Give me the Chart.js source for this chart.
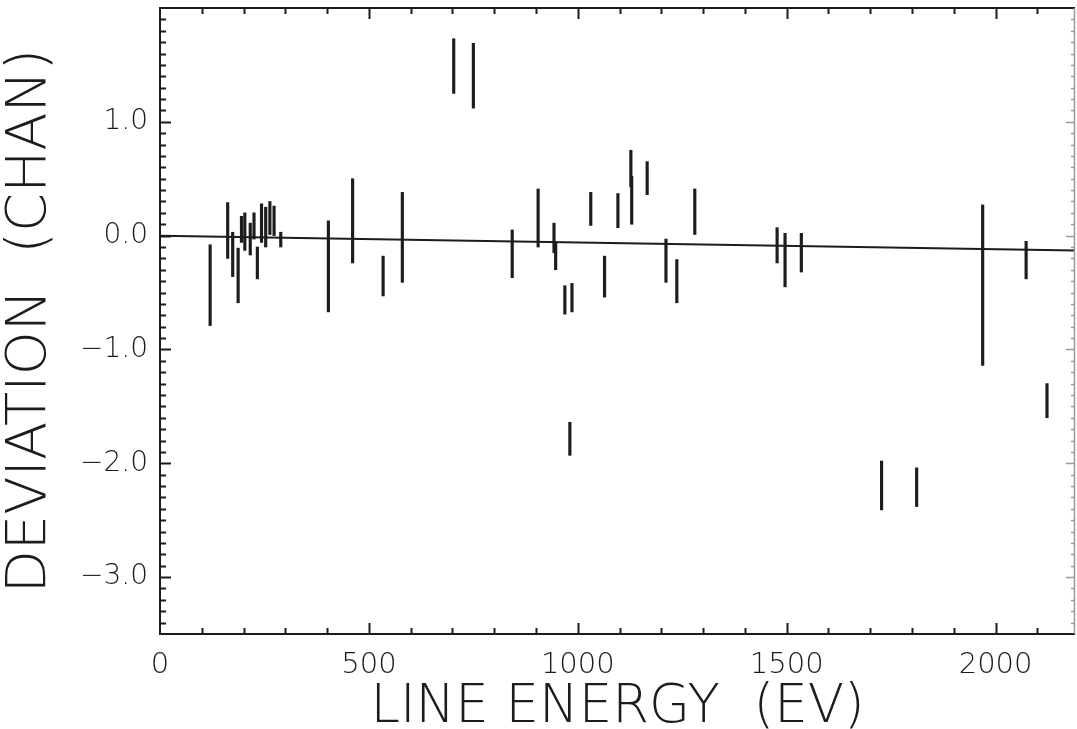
<!DOCTYPE html>
<html>
<head>
<meta charset="utf-8">
<script src="https://cdn.jsdelivr.net/npm/chart.js@4.4.1/dist/chart.umd.min.js"></script>
<style>
  html, body { margin: 0; padding: 0; background: #fff; overflow: hidden; }
  #wrap { position: relative; width: 1077px; height: 729px; }
</style>
</head>
<body>
<div id="wrap"><canvas id="plot"></canvas></div>
<script>
"use strict";

// ── Data ────────────────────────────────────────────────────────────────────
// line energy (eV) and the top / bottom of each deviation bar (channels)
const energies = [120, 162, 174, 187, 195, 203, 216, 225, 233, 243, 253, 263, 273, 289,
                  403, 461, 534, 580, 703, 750, 843, 905, 943, 947, 969, 981, 986,
                  1031, 1064, 1096, 1127, 1129, 1166, 1211, 1237, 1280,
                  1477, 1496, 1535, 1727, 1811, 1969, 2073, 2123];
const devHigh  = [-0.08, 0.29, 0.03, -0.11, 0.17, 0.20, 0.11, 0.20, -0.10, 0.28, 0.25, 0.30, 0.26, 0.03,
                  0.13, 0.50, -0.18, 0.38, 1.73, 1.69, 0.05, 0.41, 0.11, -0.06, -0.44, -1.64, -0.42,
                  0.38, -0.18, 0.37, 0.75, 0.52, 0.65, -0.03, -0.21, 0.41,
                  0.07, 0.02, 0.02, -1.98, -2.04, 0.27, -0.05, -1.30];
const devLow   = [-0.79, -0.20, -0.36, -0.59, -0.06, -0.13, -0.17, -0.03, -0.38, -0.06, -0.10, 0.01, 0.00, -0.10,
                  -0.67, -0.24, -0.53, -0.41, 1.25, 1.12, -0.37, -0.10, -0.15, -0.30, -0.69, -1.93, -0.67,
                  0.09, -0.54, 0.07, 0.43, 0.10, 0.36, -0.41, -0.59, 0.01,
                  -0.24, -0.45, -0.32, -2.41, -2.38, -1.14, -0.38, -1.60];

// fitted line
const fitEnergy    = [0, 2190];
const fitDeviation = [0.0, -0.13];

// labelled ticks
const xTickValues = [0, 500, 1000, 1500, 2000];
const yTickValues = [1, 0, -1, -2, -3];

const FONT = "'DejaVu Sans', sans-serif";
const INK = "#1c1c1c";

function fmtDev(v) {
  if (v === 0) return "0.0";
  return (v < 0 ? "\u2212" : "") + Math.abs(v).toFixed(1);
}

// ── Frame with inward ticks on all four sides ──────────────────────────────
const framePlugin = {
  id: "frame",
  afterDatasetsDraw(chart) {
    const { ctx, chartArea: a, scales: { x, y } } = chart;
    ctx.save();
    ctx.strokeStyle = INK;
    ctx.lineWidth = 2;
    ctx.beginPath();
    ctx.moveTo(a.right, a.top);
    ctx.lineTo(a.left, a.top);
    ctx.lineTo(a.left, a.bottom);
    ctx.lineTo(a.right, a.bottom);
    ctx.stroke();

    // x ticks every 100, long at multiples of 500
    ctx.beginPath();
    for (let v = 100; v <= x.max; v += 100) {
      const px = Math.round(x.getPixelForValue(v)) + 0.5;
      const len = v % 500 === 0 ? 11 : 6;
      ctx.moveTo(px, a.bottom); ctx.lineTo(px, a.bottom - len);
      ctx.moveTo(px, a.top);    ctx.lineTo(px, a.top + len);
    }
    // y ticks every 0.1 on the left, long at integers
    for (let k = -34; k <= 19; k++) {
      const py = Math.round(y.getPixelForValue(k / 10)) + 0.5;
      const len = k % 10 === 0 ? 11 : 6;
      ctx.moveTo(a.left, py); ctx.lineTo(a.left + len, py);
    }
    ctx.stroke();

    // faint right axis
    ctx.strokeStyle = "#9a9a9a";
    ctx.lineWidth = 1.5;
    ctx.beginPath();
    ctx.moveTo(a.right - 0.5, a.top);
    ctx.lineTo(a.right - 0.5, a.bottom);
    for (let k = -34; k <= 19; k++) {
      const py = Math.round(y.getPixelForValue(k / 10)) + 0.5;
      const len = k % 10 === 0 ? 9 : 4;
      ctx.moveTo(a.right, py); ctx.lineTo(a.right - len, py);
    }
    ctx.stroke();
    ctx.restore();
  },
};

// ── Chart ───────────────────────────────────────────────────────────────────
const plotCtx = document.getElementById("plot").getContext("2d");
new Chart(plotCtx, {
  type: "bar",
  data: {
    datasets: [
      {
        type: "bar",
        data: energies.map((e, i) => ({ x: e, y: [devLow[i], devHigh[i]] })),
        backgroundColor: INK,
        borderWidth: 0,
        barThickness: 2.5,
        grouped: false,
      },
      {
        type: "line",
        data: fitEnergy.map((e, i) => ({ x: e, y: fitDeviation[i] })),
        borderColor: INK,
        borderWidth: 2,
        pointRadius: 0,
        fill: false,
      },
    ],
  },
  options: {
    animation: false,
    responsive: true,
    maintainAspectRatio: false,
    layout: { padding: { top: 8, right: 2, left: 0, bottom: 0 } },
    plugins: { legend: { display: false }, tooltip: { enabled: false } },
    scales: {
      x: {
        type: "linear",
        min: 0,
        max: 2190,
        offset: false,
        grid: { display: false, drawTicks: false },
        border: { display: false },
        afterBuildTicks: s => { s.ticks = xTickValues.map(v => ({ value: v })); },
        afterFit: s => { s.height = 95; s.paddingLeft = 0; s.paddingRight = 0; },
        ticks: {
          color: INK,
          padding: 14,
          maxRotation: 0,
          autoSkip: false,
          font: { family: FONT, size: 29, weight: "200" },
          callback: v => String(v),
        },
        title: {
          display: true,
          text: "LINE ENERGY  (EV)",
          color: INK,
          padding: { top: 0, bottom: 0 },
          font: { family: FONT, size: 53, weight: "200", lineHeight: 0.8 },
        },
      },
      y: {
        type: "linear",
        min: -3.5,
        max: 2.0,
        grid: { display: false, drawTicks: false },
        border: { display: false },
        afterBuildTicks: s => { s.ticks = yTickValues.map(v => ({ value: v })); },
        afterFit: s => { s.width = 160; s.paddingTop = 0; s.paddingBottom = 0; },
        ticks: {
          color: INK,
          padding: 12,
          autoSkip: false,
          font: { family: FONT, size: 28, weight: "200" },
          callback: v => fmtDev(v),
        },
        title: {
          display: true,
          text: "DEVIATION  (CHAN)",
          color: INK,
          padding: { top: 0, bottom: 0 },
          font: { family: FONT, size: 56, weight: "200", lineHeight: 1.1 },
        },
      },
    },
  },
  plugins: [framePlugin],
});
</script>
</body>
</html>
